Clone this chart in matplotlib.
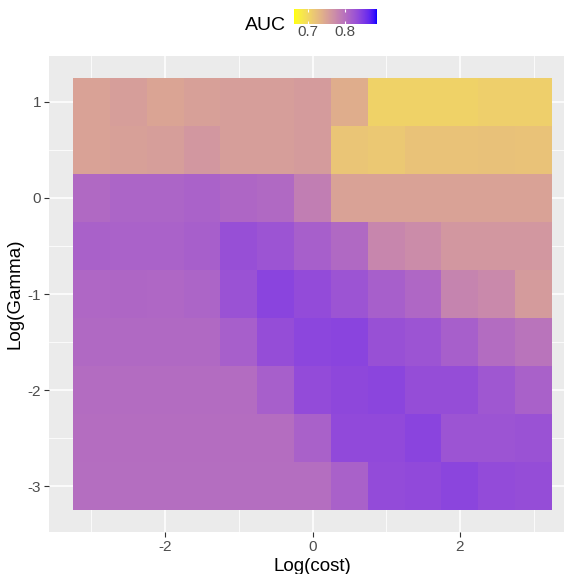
import numpy as np
import matplotlib
matplotlib.use("Agg")
import matplotlib.pyplot as plt
from matplotlib.colors import ListedColormap, Normalize

plt.rcParams["font.family"] = ["Liberation Sans", "DejaVu Sans"]
plt.rcParams["axes.unicode_minus"] = False

# grid of the search, log scale
log_cost = [-3.0, -2.5, -2.0, -1.5, -1.0, -0.5, 0.0, 0.5, 1.0, 1.5, 2.0, 2.5, 3.0]
log_gamma = [1.0, 0.5, 0.0, -0.5, -1.0, -1.5, -2.0, -2.5, -3.0]

# AUC per (gamma row, cost column)
auc = [
    [0.751, 0.756, 0.750, 0.754, 0.756, 0.756, 0.758, 0.741, 0.706, 0.706, 0.706, 0.709, 0.709],
    [0.751, 0.754, 0.756, 0.763, 0.756, 0.756, 0.758, 0.718, 0.716, 0.721, 0.721, 0.722, 0.721],
    [0.806, 0.811, 0.811, 0.813, 0.809, 0.806, 0.786, 0.751, 0.751, 0.751, 0.751, 0.751, 0.751],
    [0.814, 0.813, 0.813, 0.816, 0.831, 0.826, 0.816, 0.806, 0.778, 0.773, 0.763, 0.763, 0.763],
    [0.808, 0.809, 0.808, 0.811, 0.828, 0.841, 0.834, 0.826, 0.816, 0.808, 0.781, 0.776, 0.758],
    [0.806, 0.806, 0.806, 0.806, 0.816, 0.832, 0.839, 0.841, 0.830, 0.826, 0.816, 0.804, 0.796],
    [0.804, 0.804, 0.804, 0.804, 0.804, 0.816, 0.834, 0.838, 0.840, 0.832, 0.832, 0.824, 0.814],
    [0.803, 0.803, 0.803, 0.803, 0.803, 0.803, 0.814, 0.836, 0.836, 0.841, 0.826, 0.826, 0.828],
    [0.802, 0.802, 0.802, 0.802, 0.802, 0.802, 0.802, 0.814, 0.834, 0.836, 0.840, 0.834, 0.832],
]
auc_min, auc_max = 0.663, 0.886
bar_ticks = [0.7, 0.8]


def srgb_to_lab(rgb):
    c = np.asarray(rgb, float)
    lin = np.where(c <= 0.04045, c / 12.92, ((c + 0.055) / 1.055) ** 2.4)
    m = np.array([[0.4124, 0.3576, 0.1805],
                  [0.2126, 0.7152, 0.0722],
                  [0.0193, 0.1192, 0.9505]])
    xyz = m @ lin / np.array([0.95047, 1.0, 1.08883])
    f = np.where(xyz > 0.008856, np.cbrt(xyz), 7.787 * xyz + 16 / 116)
    return np.array([116 * f[1] - 16, 500 * (f[0] - f[1]), 200 * (f[1] - f[2])])


def lab_to_srgb(lab):
    L, a, b = lab
    fy = (L + 16) / 116
    f = np.array([fy + a / 500, fy, fy - b / 200])
    xyz = np.where(f ** 3 > 0.008856, f ** 3, (f - 16 / 116) / 7.787)
    xyz = xyz * np.array([0.95047, 1.0, 1.08883])
    m = np.array([[3.2406, -1.5372, -0.4986],
                  [-0.9689, 1.8758, 0.0415],
                  [0.0557, -0.2040, 1.0570]])
    lin = np.clip(m @ xyz, 0, 1)
    c = np.where(lin <= 0.0031308, 12.92 * lin, 1.055 * lin ** (1 / 2.4) - 0.055)
    return np.clip(c, 0, 1)


# yellow -> blue ramp interpolated in Lab, like ggplot's scale_fill_gradient
low, high = srgb_to_lab([1, 1, 0]), srgb_to_lab([0, 0, 1])
ramp = [lab_to_srgb(low + t * (high - low)) for t in np.linspace(0, 1, 256)]
cmap = ListedColormap(ramp)
norm = Normalize(auc_min, auc_max)

fig = plt.figure(figsize=(5.64, 5.74), dpi=100)
ax = fig.add_axes([49 / 564, 42 / 574, 527 / 564, 476 / 574])
ax.set_facecolor("#EBEBEB")

xc = np.array(log_cost)
yc = np.array(log_gamma[::-1])
step = 0.5
xe = np.append(xc - step / 2, xc[-1] + step / 2)
ye = np.append(yc - step / 2, yc[-1] + step / 2)
mesh = ax.pcolormesh(xe, ye, np.array(auc)[::-1], cmap=cmap, norm=norm,
                     edgecolors="none", zorder=2)

xr = xe[-1] - xe[0]
yr = ye[-1] - ye[0]
ax.set_xlim(xe[0] - 0.05 * xr, xe[-1] + 0.05 * xr)
ax.set_ylim(ye[0] - 0.05 * yr, ye[-1] + 0.05 * yr)

ax.set_xticks([-2, 0, 2])
ax.set_xticks([-3, -1, 1, 3], minor=True)
ax.set_yticks([-3, -2, -1, 0, 1])
ax.set_yticks([-2.5, -1.5, -0.5, 0.5], minor=True)
ax.grid(which="major", color="white", linewidth=1.1, zorder=1)
ax.grid(which="minor", color="white", linewidth=0.55, zorder=1)
ax.set_axisbelow(True)
for s in ax.spines.values():
    s.set_visible(False)
ax.tick_params(which="major", length=3.5, width=0.8, color="#333333",
               labelsize=11, labelcolor="#4D4D4D", pad=2)
ax.tick_params(which="minor", length=0)
ax.set_xlabel("Log(cost)", fontsize=13.5, labelpad=3)
ax.set_ylabel("Log(Gamma)", fontsize=13.5, labelpad=3)

# colour bar legend on top
cax = fig.add_axes([294 / 564, 550 / 574, 83 / 564, 15 / 574])
cb = fig.colorbar(mesh, cax=cax, orientation="horizontal", ticks=bar_ticks)
cb.outline.set_visible(False)
cax.tick_params(length=0, labelsize=11, labelcolor="#4D4D4D", pad=1)
cax.vlines(bar_ticks, 0, 0.22, colors="white", linewidth=0.8,
           transform=cax.get_xaxis_transform())
cax.vlines(bar_ticks, 0.78, 1, colors="white", linewidth=0.8,
           transform=cax.get_xaxis_transform())
fig.text(286 / 564, 549 / 574, "AUC", fontsize=14, ha="right", va="center")

fig.savefig("out.png", dpi=100)
